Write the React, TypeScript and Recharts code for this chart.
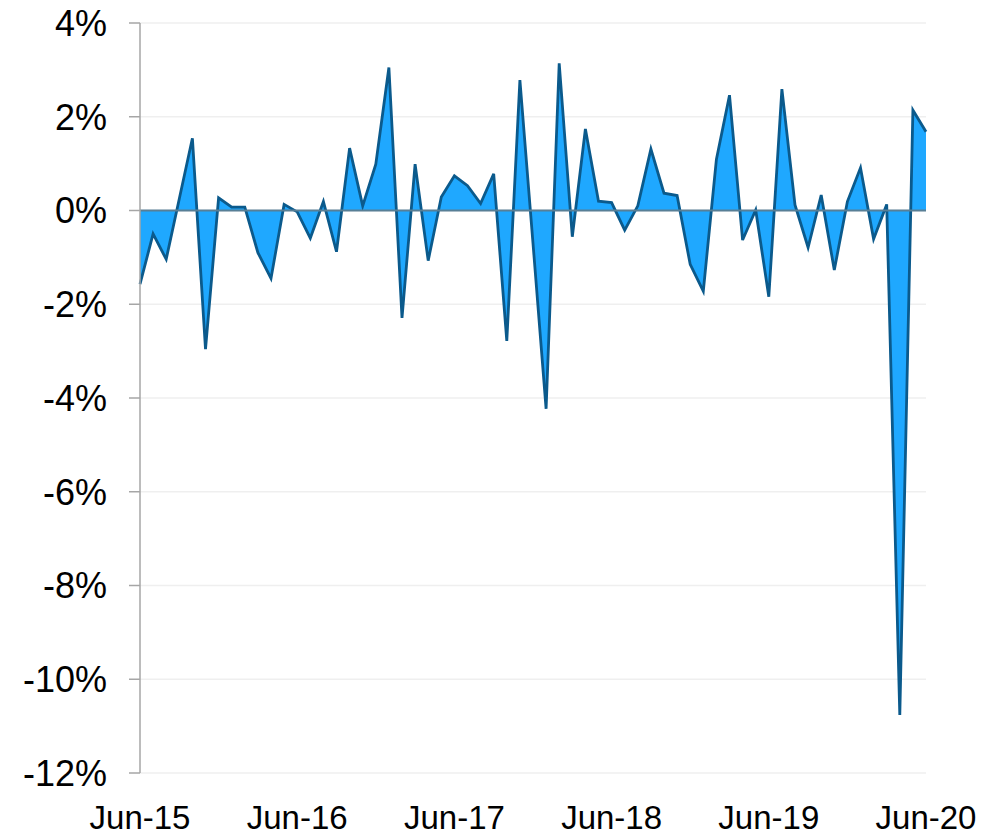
import {
    AreaChart,
    Area,
    XAxis,
    YAxis,
    CartesianGrid,
    ReferenceLine,
} from 'recharts'

const months = [
    'Jun-15', 'Jul-15', 'Aug-15', 'Sep-15', 'Oct-15', 'Nov-15', 'Dec-15',
    'Jan-16', 'Feb-16', 'Mar-16', 'Apr-16', 'May-16', 'Jun-16', 'Jul-16',
    'Aug-16', 'Sep-16', 'Oct-16', 'Nov-16', 'Dec-16', 'Jan-17', 'Feb-17',
    'Mar-17', 'Apr-17', 'May-17', 'Jun-17', 'Jul-17', 'Aug-17', 'Sep-17',
    'Oct-17', 'Nov-17', 'Dec-17', 'Jan-18', 'Feb-18', 'Mar-18', 'Apr-18',
    'May-18', 'Jun-18', 'Jul-18', 'Aug-18', 'Sep-18', 'Oct-18', 'Nov-18',
    'Dec-18', 'Jan-19', 'Feb-19', 'Mar-19', 'Apr-19', 'May-19', 'Jun-19',
    'Jul-19', 'Aug-19', 'Sep-19', 'Oct-19', 'Nov-19', 'Dec-19', 'Jan-20',
    'Feb-20', 'Mar-20', 'Apr-20', 'May-20', 'Jun-20',
]

// monthly change, %
const change = [
    -1.57, -0.5, -1.04, 0.25, 1.54, -2.96, 0.27, 0.07, 0.07, -0.9,
    -1.45, 0.13, -0.03, -0.59, 0.19, -0.88, 1.33, 0.1, 0.99, 3.05,
    -2.29, 0.99, -1.07, 0.29, 0.74, 0.53, 0.15, 0.78, -2.78, 2.78,
    -0.7, -4.23, 3.14, -0.56, 1.74, 0.2, 0.17, -0.42, 0.1, 1.31,
    0.37, 0.32, -1.15, -1.72, 1.09, 2.46, -0.63, 0.01, -1.84, 2.59,
    0.12, -0.79, 0.33, -1.27, 0.19, 0.91, -0.61, 0.13, -10.76, 2.14,
    1.68,
]

const xTicks = ['Jun-15', 'Jun-16', 'Jun-17', 'Jun-18', 'Jun-19', 'Jun-20']
const yTicks = [-12, -10, -8, -6, -4, -2, 0, 2, 4]

const data = months.map((m, i) => ({ m, v: change[i] }))

export default function App() {
    return (
        <div
            style={{
                margin: '-8px 0 0 -8px',
                fontFamily: '"Liberation Sans", Arial, sans-serif',
            }}
        >
            <AreaChart
                width={1003}
                height={835}
                data={data}
                margin={{ top: 23, right: 77, bottom: 0, left: 0 }}
            >
                <CartesianGrid vertical={false} stroke="#efefef" strokeWidth={1.5} />
                <XAxis
                    dataKey="m"
                    ticks={xTicks}
                    interval={0}
                    axisLine={false}
                    tickLine={false}
                    tickSize={0}
                    tickMargin={33}
                    height={62}
                    tick={{ fill: '#000', fontSize: 33 }}
                />
                <YAxis
                    domain={[-12, 4]}
                    ticks={yTicks}
                    interval={0}
                    width={140}
                    tickFormatter={(v) => `${v}%`}
                    axisLine={{ stroke: '#a6a6a6', strokeWidth: 1.5 }}
                    tickLine={{ stroke: '#a6a6a6', strokeWidth: 1.5 }}
                    tickSize={11}
                    tickMargin={22}
                    tick={{ fill: '#000', fontSize: 36 }}
                />
                <Area
                    type="linear"
                    dataKey="v"
                    stroke="#0b5a8c"
                    strokeWidth={2.8}
                    fill="#1fa8ff"
                    fillOpacity={1}
                    isAnimationActive={false}
                    dot={false}
                    activeDot={false}
                />
                <ReferenceLine y={0} stroke="#587f96" strokeWidth={2} />
            </AreaChart>
        </div>
    )
}
